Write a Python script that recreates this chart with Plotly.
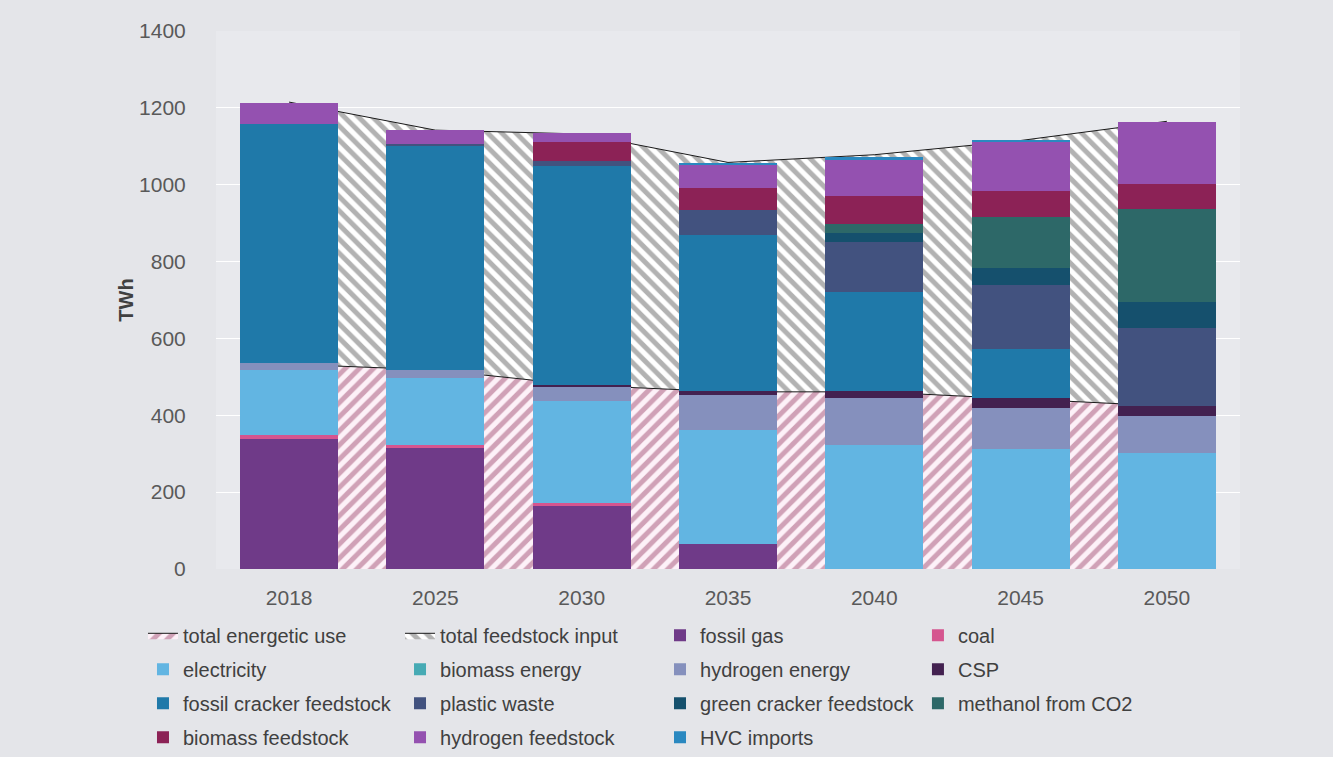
import plotly.graph_objects as go

years = ['2018', '2025', '2030', '2035', '2040', '2045', '2050']

# hatched background areas (stacked)
total_energetic_use = [533, 518, 478, 461, 461, 442, 424]
total_feedstock_input = [682, 624, 654, 597, 617, 673, 741]

# stacked bar series (TWh), bottom to top
fossil_gas = [338, 316, 164, 65, 0, 0, 0]
coal = [11, 7, 9, 0, 0, 0, 0]
electricity = [169, 175, 263, 297, 323, 312, 303]
biomass_energy = [0, 0, 0, 0, 0, 0, 0]
hydrogen_energy = [19, 20, 40, 91, 121, 106, 94]
csp = [0, 0, 3, 11, 19, 26, 26]
fossil_cracker_feedstock = [620, 583, 569, 404, 257, 128, 0]
plastic_waste = [0, 4, 15, 65, 130, 167, 205]
green_cracker_feedstock = [0, 0, 0, 0, 25, 43, 68]
methanol_from_co2 = [0, 0, 0, 0, 24, 135, 241]
biomass_feedstock = [0, 0, 49, 58, 71, 66, 66]
hydrogen_feedstock = [56, 38, 22, 60, 94, 129, 160]
hvc_imports = [0, 0, 0, 6, 8, 3, 0]

bar_series = [
    ('fossil gas', fossil_gas, '#6f3a88', 'legend3'),
    ('coal', coal, '#d5558f', 'legend4'),
    ('electricity', electricity, '#62b5e2', 'legend'),
    ('biomass energy', biomass_energy, '#46aab4', 'legend2'),
    ('hydrogen energy', hydrogen_energy, '#8590bd', 'legend3'),
    ('CSP', csp, '#432150', 'legend4'),
    ('fossil cracker feedstock', fossil_cracker_feedstock, '#1f79a9', 'legend'),
    ('plastic waste', plastic_waste, '#42527f', 'legend2'),
    ('green cracker feedstock', green_cracker_feedstock, '#15506d', 'legend3'),
    ('methanol from CO2', methanol_from_co2, '#2d6868', 'legend4'),
    ('biomass feedstock', biomass_feedstock, '#8c2256', 'legend'),
    ('hydrogen feedstock', hydrogen_feedstock, '#9451b0', 'legend2'),
    ('HVC imports', hvc_imports, '#2a88c0', 'legend3'),
]

FONT = 'Liberation Sans, Arial, sans-serif'

fig = go.Figure()

fig.add_trace(go.Scatter(
    x=years, y=total_energetic_use, name='total energetic use',
    stackgroup='areas', mode='lines',
    line=dict(color='#1a1a1a', width=1),
    fillcolor='#fdf1f8',
    fillpattern=dict(shape='/', fgcolor='#a45275', bgcolor='#fdf1f8', size=10, solidity=0.5),
    legend='legend', legendgroup='g1', zorder=0,
))
fig.add_trace(go.Scatter(
    x=years, y=total_feedstock_input, name='total feedstock input',
    stackgroup='areas', mode='lines',
    line=dict(color='#1a1a1a', width=1),
    fillcolor='white',
    fillpattern=dict(shape='\\', fgcolor='#666666', bgcolor='white', size=10, solidity=0.5),
    legend='legend2', legendgroup='g2', zorder=0,
))

for i, (name, vals, color, lg) in enumerate(bar_series):
    fig.add_trace(go.Bar(
        x=years, y=vals, name=name,
        marker=dict(color=color, line=dict(width=0)),
        legend=lg, legendgroup='b%d' % i, zorder=1,
    ))

leg_common = dict(
    orientation='v', xanchor='left', yanchor='top', y=-0.087,
    bgcolor='rgba(0,0,0,0)', traceorder='grouped', tracegroupgap=5,
    font=dict(family=FONT, size=20, color='#404040'),
)

fig.update_layout(
    width=1333, height=757,
    barmode='stack', bargap=0.33,
    paper_bgcolor='#e4e5e9', plot_bgcolor='#e8e9ed',
    margin=dict(l=216, r=93, t=31, b=188, autoexpand=False),
    font=dict(family=FONT, color='#595959'),
    showlegend=True,
    legend=dict(x=-0.0713, **leg_common),
    legend2=dict(x=0.1797, **leg_common),
    legend3=dict(x=0.4336, **leg_common),
    legend4=dict(x=0.6855, **leg_common),
    xaxis=dict(
        type='category', showgrid=False, showline=True, linecolor='white', linewidth=2,
        ticks='', tickfont=dict(family=FONT, size=21, color='#595959'),
        ticklabelstandoff=9,
    ),
    yaxis=dict(
        range=[0, 1400], dtick=200, showgrid=True, gridcolor='white', gridwidth=1,
        showline=True, linecolor='white', linewidth=2, zeroline=False,
        ticks='', tickfont=dict(family=FONT, size=21, color='#595959'),
        ticklabelstandoff=24,
        title=dict(text='<b>TWh</b>', font=dict(family=FONT, size=20, color='#404040'), standoff=0),
    ),
)

fig.write_html('out.html', config={'displayModeBar': False})

# remove the default page margin so the figure fills the window
with open('out.html', 'r', encoding='utf-8') as f:
    html = f.read()
html = html.replace('<head>', '<head><style>html,body{margin:0;padding:0;overflow:hidden;background:#e4e5e9;}</style>', 1)
with open('out.html', 'w', encoding='utf-8') as f:
    f.write(html)
